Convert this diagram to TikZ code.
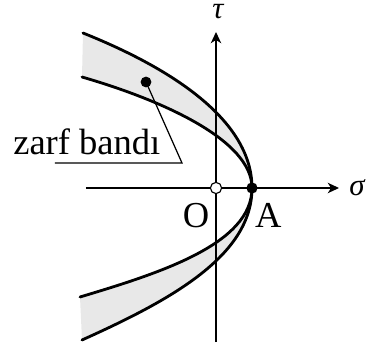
\documentclass[tikz,border=0pt]{standalone}
\usepackage{fontspec}
\setmainfont{Liberation Serif}
\usetikzlibrary{arrows.meta, positioning}

\tikzset{
  axis/.style={line width=0.9pt, -{Stealth[length=0.28cm, width=0.26cm, inset=0.08cm]}},
  envelope/.style={line width=2pt, line cap=round},
  band/.style={fill=gray!18},
  lbl/.style={inner sep=0pt, font=\fontsize{26}{30}\selectfont},
  greek/.style={inner sep=0pt, font=\fontsize{22}{26}\selectfont\itshape},
  dotfill/.style={circle, fill=black, inner sep=0pt, minimum size=0.28cm},
  dotopen/.style={circle, draw=black, fill=white, line width=0.8pt, inner sep=0pt, minimum size=0.28cm}
}

\begin{document}
\begin{tikzpicture}
  \useasboundingbox (-5.4,-4.05) rectangle (3.9,4.7);

  % Curve ends
  \coordinate (tip) at (0.9,0);
  \coordinate (outtop) at (-3.325,3.875);
  \coordinate (outbot) at (-3.35,-3.8);
  \coordinate (intop) at (-3.35,2.775);
  \coordinate (inbot) at (-3.4,-2.725);

  % Shaded band
  \fill[band] (outtop) .. controls (-1.125,2.995) and (0.9,1.7) .. (tip)
    .. controls (0.9,-1.7) and (-1.15,-2.81) .. (outbot) -- (inbot)
    .. controls (-1.4,-2.125) and (0.9,-1.4) .. (tip)
    .. controls (0.9,1.2) and (-1.35,2.195) .. (intop) -- cycle;

  % Axes
  \coordinate (sl) at (-3.25,0);
  \coordinate (sr) at (3.075,0);
  \coordinate (tb) at (0,-3.85);
  \coordinate (tt) at (0,3.9);
  \draw[axis] (sl) -- (sr);
  \draw[axis] (tb) -- (tt);
  \node[greek, anchor=base west] (sigma) at (3.33,-0.175) {σ};
  \node[greek, anchor=north] (tau) at (0.05,4.6) {τ};

  % Outer and inner curves
  \draw[envelope] (outtop) .. controls (-1.125,2.995) and (0.9,1.7) .. (tip)
    .. controls (0.9,-1.7) and (-1.15,-2.81) .. (outbot);
  \draw[envelope] (intop) .. controls (-1.35,2.195) and (0.9,1.2) .. (tip)
    .. controls (0.9,-1.4) and (-1.4,-2.125) .. (inbot);

  % Points
  \node[dotopen] (O) at (0,0) {};
  \node[dotfill] (A) at (tip) {};
  \node[lbl, anchor=base] (Olbl) at (-0.5,-0.975) {O};
  \node[lbl, anchor=base] (Albl) at (1.31,-0.975) {A};

  % Label with leader
  \node[dotfill, minimum size=0.27cm] (bdot) at (-1.75,2.65) {};
  \node[lbl, anchor=base west] (zarf) at (-5.075,0.825) {zarf bandı};
  \coordinate (corner) at (-0.85,0.625);
  \coordinate (ulend) at (-4.025,0.625);
  \draw[line width=0.9pt] (bdot.center) -- (corner) -- (ulend);
\end{tikzpicture}
\end{document}
